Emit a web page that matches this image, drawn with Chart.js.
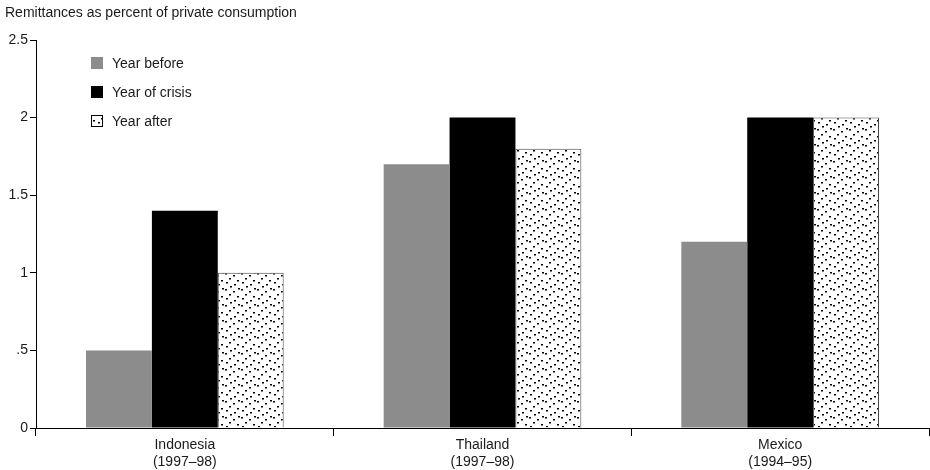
<!DOCTYPE html>
<html>
<head>
<meta charset="utf-8">
<script src="https://cdn.jsdelivr.net/npm/chart.js@4.4.1/dist/chart.umd.min.js"></script>
<style>
  html, body { margin: 0; padding: 0; background: #fff; }
  #wrap { width: 930px; height: 470px; position: relative; }
</style>
</head>
<body>
<div id="wrap"><canvas id="grafica"></canvas></div>
<script>
// ── Datos ─────────────────────────────────────────────────────
const categorias   = [['Indonesia', '(1997–98)'], ['Thailand', '(1997–98)'], ['Mexico', '(1994–95)']];
const anioAntes    = [0.5, 1.7, 1.2];
const anioCrisis   = [1.4, 2.0, 2.0];
const anioDespues  = [1.0, 1.8, 2.0];
const ticksY       = [0, 0.5, 1, 1.5, 2, 2.5];
const etiquetasY   = ['0', '.5', '1', '1.5', '2', '2.5'];
const nombresSerie = ['Year before', 'Year of crisis', 'Year after'];

const FUENTE = '"Liberation Sans Narrow", "Arial Narrow", "Liberation Sans", sans-serif';

// ── Patrón punteado ───────────────────────────────────────────
function crearPatron() {
    const c = document.createElement('canvas');
    c.width = 16; c.height = 16;
    const g = c.getContext('2d');
    g.fillStyle = '#fff';
    g.fillRect(0, 0, 16, 16);
    g.fillStyle = '#000';
    const puntos = [[1, 1], [9, 3], [5, 6], [13, 8], [2, 10], [10, 12], [6, 14], [14, 0]];
    puntos.forEach(([x, y]) => g.fillRect(x, y, 2, 1.5));
    return g.createPattern(c, 'repeat');
}
const patron = crearPatron();
const colores = ['#8c8c8c', '#000000', patron];

// ── Plugin: título y leyenda ─────────────────────────────────
const extras = {
    id: 'extras',
    afterDraw(chart) {
        const ctx = chart.ctx;
        ctx.save();
        ctx.font = '14px ' + FUENTE;
        ctx.fillStyle = '#1a1a1a';
        ctx.textBaseline = 'middle';
        ctx.textAlign = 'left';
        ctx.fillText('Remittances as percent of private consumption', 5, 13);

        const ys = [63, 92, 121];
        nombresSerie.forEach((n, i) => {
            const x = 91, y = ys[i];
            ctx.fillStyle = colores[i];
            ctx.fillRect(x, y - 6, 12, 12);
            if (i === 2) {
                ctx.strokeStyle = '#000';
                ctx.lineWidth = 1;
                ctx.strokeRect(x + 0.5, y - 5.5, 11, 11);
            }
            ctx.fillStyle = '#1a1a1a';
            ctx.fillText(n, x + 21, y + 1);
        });
        ctx.restore();
    }
};

// ── Gráfica ───────────────────────────────────────────────────
new Chart(document.getElementById('grafica'), {
    type: 'bar',
    data: {
        labels: categorias,
        datasets: [
            { label: nombresSerie[0], data: anioAntes,   backgroundColor: colores[0], borderWidth: 0 },
            { label: nombresSerie[1], data: anioCrisis,  backgroundColor: colores[1], borderWidth: 0 },
            { label: nombresSerie[2], data: anioDespues, backgroundColor: colores[2], borderColor: '#444', borderWidth: 1 }
        ]
    },
    options: {
        responsive: true,
        maintainAspectRatio: false,
        animation: false,
        devicePixelRatio: 1,
        layout: { padding: { top: 40, right: 1, left: 0, bottom: 0 } },
        categoryPercentage: 0.664,
        barPercentage: 1.0,
        plugins: { legend: { display: false }, tooltip: { enabled: false } },
        scales: {
            x: {
                offset: true,
                grid: { offset: true, drawOnChartArea: false, tickLength: 8, color: '#000', lineWidth: 1 },
                border: { color: '#000', width: 1 },
                ticks: { color: '#1a1a1a', font: { family: FUENTE, size: 14 }, padding: 1, maxRotation: 0 },
                afterFit: s => { s.height = 42; }
            },
            y: {
                min: 0, max: 2.5,
                afterBuildTicks: s => { s.ticks = ticksY.map(v => ({ value: v })); },
                grid: { drawOnChartArea: false, tickLength: 6, color: '#000', lineWidth: 1 },
                border: { color: '#000', width: 1 },
                ticks: {
                    color: '#1a1a1a', font: { family: FUENTE, size: 14 }, padding: 2,
                    callback: v => etiquetasY[ticksY.indexOf(v)]
                },
                afterFit: s => { s.width = 36; }
            }
        }
    },
    plugins: [extras]
});
</script>
</body>
</html>
